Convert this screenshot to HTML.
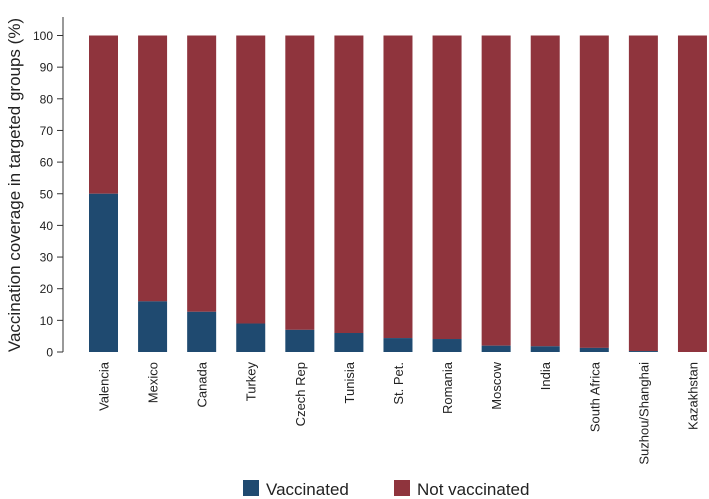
<!DOCTYPE html>
<html><head><meta charset="utf-8"><style>
body{margin:0;background:#fff;font-family:"Liberation Sans",Arial,sans-serif}
svg{display:block}
</style></head><body>
<svg id="chart" width="709" height="499">
<g id="axis"></g>
<g id="bars"></g>
<g id="xlabels"></g>
<text transform="translate(20,185) rotate(-90)" text-anchor="middle" font-size="17" fill="#222">Vaccination coverage in targeted groups (%)</text>
<g>
<rect x="243" y="480" width="16" height="16" fill="#1f4a70"/>
<text x="266" y="495" font-size="17" fill="#222">Vaccinated</text>
<rect x="394" y="480" width="16" height="16" fill="#8f343d"/>
<text x="417" y="495" font-size="17" fill="#222">Not vaccinated</text>
</g>
</svg>
<script>
const categories=["Valencia","Mexico","Canada","Turkey","Czech Rep","Tunisia","St. Pet.","Romania","Moscow","India","South Africa","Suzhou/Shanghai","Kazakhstan"];
const vaccinated=[50,16,12.7,9,7,6,4.4,4.1,2.0,1.8,1.3,0.3,0];
const yTicks=[0,10,20,30,40,50,60,70,80,90,100];
const NS="http://www.w3.org/2000/svg";
const y0=352,y100=35.5;
function y(v){return y0-(y0-y100)*v/100;}
function xc(i){return 103.5+49.08*i;}
const bw=29;
const ax=document.getElementById('axis');
function mk(tag,attrs,parent){const e=document.createElementNS(NS,tag);for(const k in attrs)e.setAttribute(k,attrs[k]);parent.appendChild(e);return e;}
const al=mk('line',{x1:63,x2:63,y1:17,y2:y0,stroke:'#333','stroke-width':1},ax);


yTicks.forEach(t=>{
 const l=mk('line',{x1:57,x2:63,y1:y(t),y2:y(t),stroke:'#333'},ax);
 
 
 const tx=mk('text',{x:53,y:y(t)+4.5,'text-anchor':'end','font-size':12,fill:'#222'},ax);
 tx.textContent=t;
 
 
});
const bg=document.getElementById('bars'),lg=document.getElementById('xlabels');
categories.forEach((c,i)=>{
 const v=vaccinated[i];
 const r=mk('rect',{x:xc(i)-bw/2,y:y(100),width:bw,height:y(v)-y(100),fill:'#8f343d'},bg);
 
 
 if(v>0){
  const b=mk('rect',{x:xc(i)-bw/2,y:y(v),width:bw,height:y0-y(v),fill:'#1f4a70'},bg);
  
  
 }
 const t=mk('text',{transform:`translate(${xc(i)+5},362) rotate(-90)`,'text-anchor':'end','font-size':13,fill:'#222'},lg);
 t.textContent=c;
 
 
});
</script>
</body></html>
